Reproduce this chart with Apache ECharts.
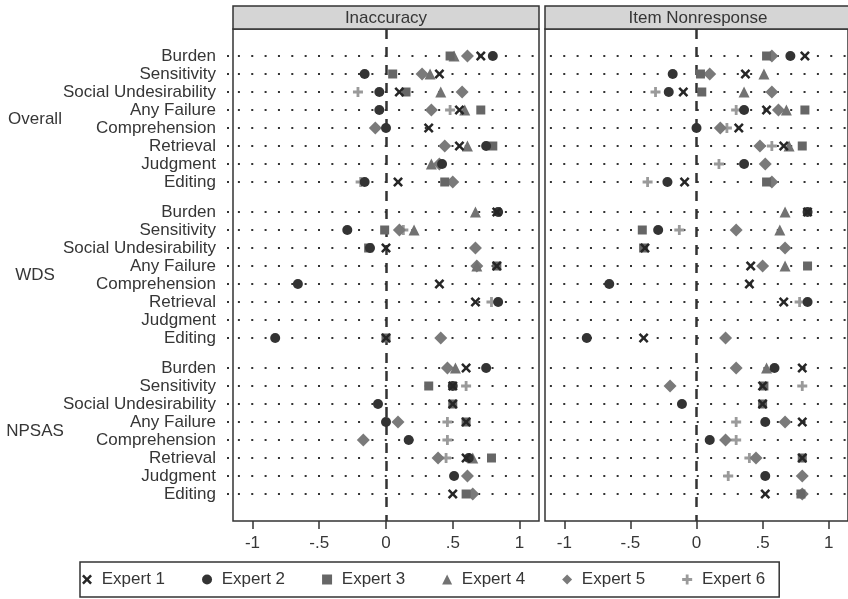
<!DOCTYPE html>
<html><head><meta charset="utf-8">
<script src="https://cdn.jsdelivr.net/npm/echarts@6/dist/echarts.min.js"></script>
<style>html,body{margin:0;padding:0;background:#fff}#c{width:848px;height:599px}</style>
</head><body><div id="c"></div>
<script>
const groups = ['Overall', 'WDS', 'NPSAS'];
const items = ['Burden', 'Sensitivity', 'Social Undesirability', 'Any Failure', 'Comprehension', 'Retrieval', 'Judgment', 'Editing'];
const panels = ['Inaccuracy', 'Item Nonresponse'];
const expertNames = ['Expert 1', 'Expert 2', 'Expert 3', 'Expert 4', 'Expert 5', 'Expert 6'];
const xTicks = [-1, -0.5, 0, 0.5, 1];
const xTickLabels = ['-1', '-.5', '0', '.5', '1'];

// Inaccuracy: 24 rows (Overall 8, WDS 8, NPSAS 8)
const inaccE1 = [.71, .40, .10, .55, .32, .55, null, .09,  .83, null, .00, .83, .40, .67, null, .00,  .60, .50, .50, .60, null, .60, null, .50];
const inaccE2 = [.80, -.16, -.05, -.05, .00, .75, .42, -.16,  .84, -.29, -.12, null, -.66, .84, null, -.83,  .75, .50, -.06, .00, .17, .62, .51, null];
const inaccE3 = [.48, .05, .15, .71, null, .80, null, .44,  null, -.01, -.13, .83, null, null, null, .00,  null, .32, .50, .60, null, .79, null, .60];
const inaccE4 = [.51, .33, .41, .59, null, .61, .34, null,  .67, .21, null, .68, null, null, null, null,  .52, null, null, null, null, .65, null, null];
const inaccE5 = [.61, .27, .57, .34, -.08, .44, .40, .50,  null, .10, .67, .68, null, null, null, .41,  .46, null, null, .09, -.17, .39, .61, .65];
const inaccE6 = [null, null, -.21, .48, null, null, null, -.19,  null, .13, null, null, null, .79, null, null,  null, .60, null, .46, .46, .45, null, null];

// Item Nonresponse
const nonrE1 = [.82, .37, -.10, .53, .32, .66, null, -.09,  .84, null, -.39, .41, .40, .66, null, -.40,  .80, .50, .50, .80, null, .80, null, .52];
const nonrE2 = [.71, -.18, -.21, .36, .00, null, .36, -.22,  .84, -.29, null, null, -.66, .84, null, -.83,  .59, null, -.11, .52, .10, null, .52, null];
const nonrE3 = [.53, .03, .04, .82, null, .80, null, .53,  null, -.41, -.40, .84, null, null, null, null,  null, .51, .50, null, null, .80, null, .79];
const nonrE4 = [null, .51, .36, .68, null, .70, null, null,  .67, .63, null, .67, null, null, null, null,  .53, null, null, null, null, null, null, null];
const nonrE5 = [.57, .10, .57, .62, .18, .48, .52, .57,  null, .30, .67, .50, null, null, null, .22,  .30, -.20, null, .67, .22, .45, .80, .80];
const nonrE6 = [null, null, -.31, .30, .23, .57, .17, -.37,  null, -.13, null, null, null, .78, null, null,  null, .80, null, .30, .30, .40, .24, null];

const panelData = [
  [inaccE1, inaccE2, inaccE3, inaccE4, inaccE5, inaccE6],
  [nonrE1, nonrE2, nonrE3, nonrE4, nonrE5, nonrE6]
];

// ---- layout / style ----
const FONT = 'Liberation Sans, Arial, sans-serif';
const TXT = '#363636';
const groupStep = 8 + 2 / 3;
const rowPos = [];
const rowLabel = [];
groups.forEach((g, gi) => items.forEach((it, ii) => { rowPos.push(gi * groupStep + ii); rowLabel.push(it); }));
const groupPos = groups.map((g, gi) => gi * groupStep + 3.5);
const yMin = -1.5, yMax = 24 + 1/3 + 1.5;
const xMin = -1.146, xMax = 1.146;

const xPath = 'path://M1.8,0 L5,3.2 L8.2,0 L10,1.8 L6.8,5 L10,8.2 L8.2,10 L5,6.8 L1.8,10 L0,8.2 L3.2,5 L0,1.8 Z';
const plusPath = 'path://M3.6,0 H6.4 V3.6 H10 V6.4 H6.4 V10 H3.6 V6.4 H0 V3.6 H3.6 Z';
const expertStyle = [
  {symbol: xPath, size: 10, color: '#262626', z: 9},
  {symbol: 'circle', size: 10, color: '#333333', z: 8},
  {symbol: 'rect', size: 9, color: '#666666', z: 7},
  {symbol: 'triangle', size: 11, color: '#727272', z: 6},
  {symbol: 'diamond', size: 13, color: '#7a7a7a', z: 5},
  {symbol: plusPath, size: 10, color: '#9a9a9a', z: 4}
];

const gridsPx = [
  {left: 233, top: 29, width: 306, height: 492},
  {left: 545, top: 29, width: 306, height: 492}
];

const xAxes = gridsPx.map((g, i) => ({
  type: 'value', gridIndex: i, min: xMin, max: xMax, position: 'bottom',
  axisLine: {show: false, onZero: false},
  splitLine: {show: false},
  axisTick: {show: true, length: 8, customValues: xTicks, lineStyle: {color: '#333', width: 1.5}},
  axisLabel: {
    show: true, customValues: xTicks, margin: 14,
    fontFamily: FONT, fontSize: 17, color: TXT,
    formatter: v => { const k = xTicks.findIndex(t => Math.abs(t - v) < 1e-6); return k >= 0 ? xTickLabels[k] : ''; }
  }
}));

const yBase = {type: 'value', inverse: true, min: yMin, max: yMax, splitLine: {show: false}, axisLine: {show: false, onZero: false}};
const yAxes = [
  Object.assign({}, yBase, {
    gridIndex: 0, position: 'left', offset: 4,
    axisTick: {show: true, length: 2, customValues: rowPos, lineStyle: {color: '#333', width: 2}},
    axisLabel: {
      show: true, customValues: rowPos, margin: 13, fontFamily: FONT, fontSize: 17, color: TXT,
      formatter: v => { let best = 0; rowPos.forEach((p, k) => { if (Math.abs(p - v) < Math.abs(rowPos[best] - v)) best = k; }); return rowLabel[best]; }
    }
  }),
  Object.assign({}, yBase, {
    gridIndex: 0, position: 'left', offset: 0,
    axisTick: {show: false},
    axisLabel: {
      show: true, customValues: groupPos, margin: 198, align: 'center', fontFamily: FONT, fontSize: 17, color: TXT,
      formatter: v => { let best = 0; groupPos.forEach((p, k) => { if (Math.abs(p - v) < Math.abs(groupPos[best] - v)) best = k; }); return groups[best]; }
    }
  }),
  Object.assign({}, yBase, {gridIndex: 1, position: 'left', axisTick: {show: false}, axisLabel: {show: false}})
];

const series = [];
panels.forEach((pn, pi) => {
  const yIdx = pi === 0 ? 0 : 2;
  // background dotted row lines and dashed zero line
  series.push({
    type: 'scatter', name: 'bg' + pi, xAxisIndex: pi, yAxisIndex: yIdx, data: [], silent: true, z: 1,
    markLine: {
      silent: true, symbol: 'none', animation: false, z: 1,
      label: {show: false},
      data: rowPos.map(p => ({yAxis: p, lineStyle: {color: '#333', width: 2, type: [2, 11.35], dashOffset: 8.45}}))
        .concat([{xAxis: 0, lineStyle: {color: '#333', width: 2.5, type: [10, 8]}}])
    }
  });
  panelData[pi].forEach((vals, ei) => {
    const st = expertStyle[ei];
    const data = [];
    vals.forEach((v, r) => { if (v !== null) data.push([v, rowPos[r]]); });
    series.push({
      type: 'scatter', name: expertNames[ei], xAxisIndex: pi, yAxisIndex: yIdx,
      symbol: st.symbol, symbolSize: st.size, z: st.z,
      itemStyle: {color: st.color, opacity: 1},
      data: data
    });
  });
});

const headers = [];
panels.forEach((pn, pi) => {
  const g = gridsPx[pi];
  headers.push({type: 'rect', shape: {x: g.left, y: 6, width: g.width, height: 23}, style: {fill: '#d5d5d5', stroke: '#333', lineWidth: 1.5}, z: 10});
  headers.push({type: 'text', x: g.left + g.width / 2, y: 18, style: {text: pn, align: 'center', verticalAlign: 'middle', fontFamily: FONT, fontSize: 17, fill: TXT}, z: 11});
});

const chart = echarts.init(document.getElementById('c'), null, {renderer: 'canvas'});
chart.setOption({
  animation: false,
  backgroundColor: '#ffffff',
  grid: gridsPx.map(g => Object.assign({show: true, borderColor: '#333', borderWidth: 1.5, backgroundColor: '#fff', containLabel: false}, g)),
  xAxis: xAxes,
  yAxis: yAxes,
  legend: {
    data: expertNames, left: 80, top: 562, orient: 'horizontal',
    itemWidth: 10, itemHeight: 10, itemGap: 37,
    padding: [9, 14, 9, 2], borderColor: '#333', borderWidth: 1.5,
    textStyle: {fontFamily: FONT, fontSize: 17, color: TXT},
    formatter: n => ' ' + n, selectedMode: false
  },
  graphic: headers,
  series: series
});
</script>
</body></html>
